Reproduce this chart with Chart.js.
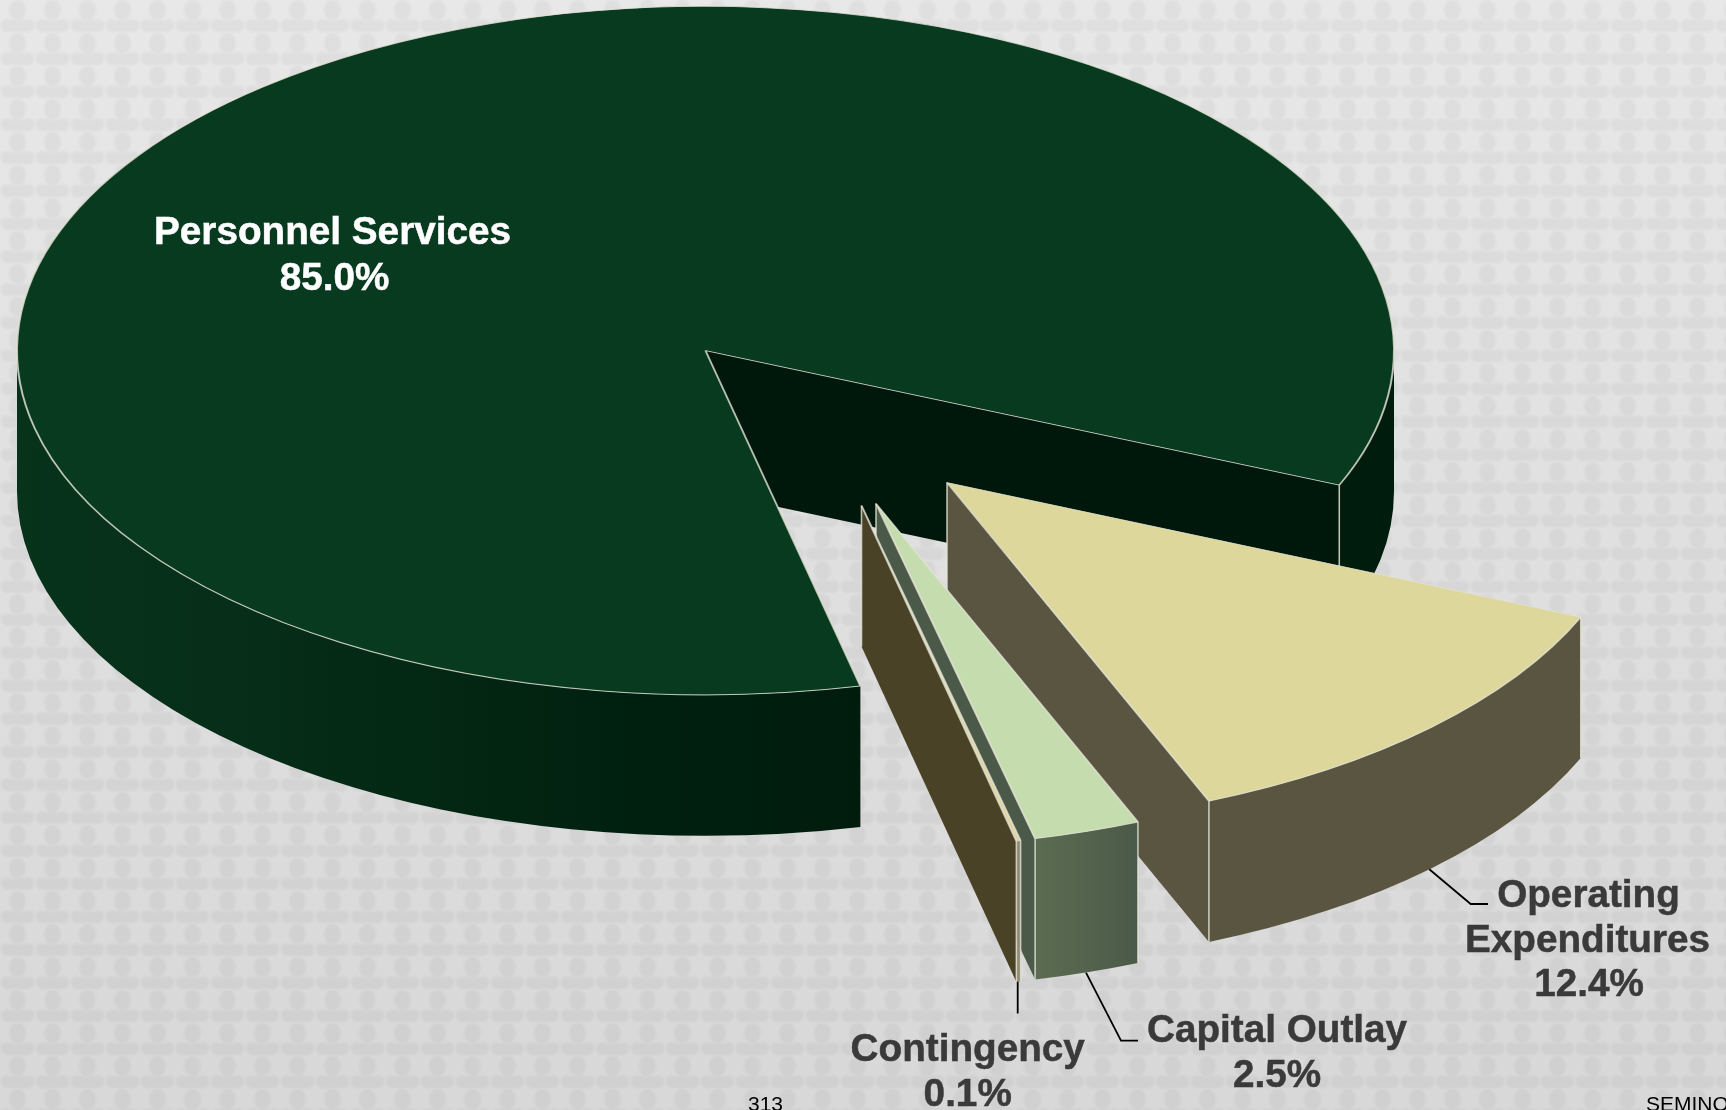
<!DOCTYPE html>
<html>
<head>
<meta charset="utf-8">
<style>
  html, body { margin: 0; padding: 0; width: 1726px; height: 1110px; overflow: hidden; }
  body {
    background-color: #dcdcdc;
    background-image:
      url("data:image/svg+xml;utf8,<svg xmlns='http://www.w3.org/2000/svg' width='35' height='33'><defs><filter id='b' x='-20%' y='-20%' width='140%' height='140%'><feGaussianBlur stdDeviation='0.9'/></filter></defs><g fill='%23000' fill-opacity='.04' filter='url(%23b)'><ellipse cx='17.5' cy='10' rx='8.5' ry='10.5'/><path d='M1 22 C5 18 10 20 17.5 21 C25 20 30 18 34 22 C35 27 33 31 29 32 L6 32 C2 31 0 27 1 22Z'/></g></svg>"),
      linear-gradient(to bottom, #e8e8e8 0%, #dfdfdf 55%, #d8d8d8 100%);
  }
  #wrap { position: absolute; left: 0; top: 0; width: 1726px; height: 1110px; }
</style>
<script src="https://cdn.jsdelivr.net/npm/chart.js@4/dist/chart.umd.js"></script>
</head>
<body>
<div id="wrap"><canvas id="budget" width="1726" height="1110"></canvas></div>
<script>
// Budget shares, in percent
const categories = ['Personnel Services', 'Operating Expenditures', 'Capital Outlay', 'Contingency'];
const shares = [85.0, 12.4, 2.5, 0.1];

// Label line breaks and anchors (one anchor per drawn line)
const labelLines = [['Personnel Services'], ['Operating', 'Expenditures'], ['Capital Outlay'], ['Contingency']];
const labelAnchors = [
  [[332.5, 243.5], [334.5, 289.5]],
  [[1588.5, 906.7], [1587.5, 951.5], [1589, 996.3]],
  [[1277, 1042], [1277, 1086.8]],
  [[967.7, 1060.7], [967.7, 1105.5]]
];
const labelColors = ['#ffffff', '#3a3a3a', '#3a3a3a', '#3a3a3a'];

// Slice colours: top face, cut face, outer wall gradient stops
const topColors = ['#083a20', '#ddd79c', '#c4dcae', '#e0d49c'];
const cutColors = ['#00170b', '#5a5540', '#4b5a48', '#4a4227'];
const wallStops = [
  ['#07331b', '#062e18', '#032712', '#00200f', '#001c0d'],
  ['#5a5540', '#5a5540'],
  ['#5c6c52', '#4a5a48'],
  ['#8f8a72', '#8f8a72']
];

// Pull-out of each slice from the pie centre, before the tilt
const pullX = [0, 241.5, 170.5, 156];
const pullY = [0, 264, 306, 310];

// Leader lines from slice wall to label
const leaders = [
  [],
  [[1429.3, 869.3], [1470.7, 904], [1488, 904]],
  [[1086, 972.7], [1121, 1040.7], [1138, 1040.7]],
  [[1017.7, 981.7], [1017.7, 1013.5]]
];

// Pie projection
const centerX = 705.5, centerY = 350.6, radius = 688.5, tilt = 0.5, depth = 141;
const edgeColor = 'rgba(226,226,212,0.8)';

function drawSlice(ctx, arc, i) {
  const D = depth / tilt;
  const x = arc.x, y = arc.y, r = arc.outerRadius;
  const a0 = arc.startAngle, a1 = arc.endAngle;
  ctx.save();
  ctx.translate(centerX + pullX[i], centerY + pullY[i] * tilt);
  ctx.scale(1, tilt);
  ctx.translate(-x, -y);

  // Cut faces that look towards the viewer
  const cut = (ang) => {
    const px = x + Math.cos(ang) * r, py = y + Math.sin(ang) * r;
    ctx.beginPath();
    ctx.moveTo(x, y); ctx.lineTo(px, py); ctx.lineTo(px, py + D); ctx.lineTo(x, y + D);
    ctx.closePath();
    ctx.fillStyle = cutColors[i];
    ctx.fill();
  };
  if (Math.sin(a0 - Math.PI / 2) > 0) cut(a0);
  if (Math.sin(a1 + Math.PI / 2) > 0) cut(a1);

  // Outer wall: only the parts on the front half of the ellipse.
  // The gradient spans the first part; anything past it stays at the last stop.
  const TAU = Math.PI * 2;
  const spans = [];
  for (let k = -2; k <= 2; k++) {
    const s = Math.max(a0, k * TAU), e = Math.min(a1, k * TAU + Math.PI);
    if (e > s) spans.push([s, e]);
  }
  const xa = x + Math.cos(spans[0][1]) * r, xb = x + Math.cos(spans[0][0]) * r;
  const wall = ctx.createLinearGradient(Math.min(xa, xb), 0, Math.max(xa, xb), 0);
  wallStops[i].forEach((c, n) => wall.addColorStop(n / (wallStops[i].length - 1), c));
  spans.forEach(([s, e]) => {
    ctx.beginPath();
    ctx.arc(x, y, r, s, e);
    ctx.arc(x, y + D, r, e, s, true);
    ctx.closePath();
    ctx.fillStyle = wall;
    ctx.fill();
  });

  // Pale upright lines at the visible corners
  ctx.strokeStyle = edgeColor;
  ctx.lineWidth = 1.6;
  const upright = (px, py) => {
    ctx.beginPath(); ctx.moveTo(px, py); ctx.lineTo(px, py + D); ctx.stroke();
  };
  upright(x + Math.cos(a1) * r, y + Math.sin(a1) * r);
  if (i > 0) {
    upright(x + Math.cos(a0) * r, y + Math.sin(a0) * r);
    upright(x, y);
  }

  // Top face, drawn by the library's arc element
  arc.draw(ctx);
  ctx.restore();
}

const extrudedPie = {
  id: 'extrudedPie',
  beforeDatasetDraw(chart, args) {
    args.meta.data.forEach((arc, i) => drawSlice(chart.ctx, arc, i));
    return false;
  }
};

const sliceLabels = {
  id: 'sliceLabels',
  afterDatasetsDraw(chart) {
    const ctx = chart.ctx;
    ctx.save();
    // Leader lines
    ctx.strokeStyle = '#000';
    ctx.lineWidth = 1.8;
    leaders.forEach(pts => {
      if (!pts.length) return;
      ctx.beginPath();
      pts.forEach((p, n) => n ? ctx.lineTo(p[0], p[1]) : ctx.moveTo(p[0], p[1]));
      ctx.stroke();
    });
    // Category and percentage
    ctx.font = 'bold 38.7px "Liberation Sans", Arial, sans-serif';
    ctx.textAlign = 'center';
    ctx.textBaseline = 'alphabetic';
    ctx.lineWidth = 0.5;
    categories.forEach((name, i) => {
      const lines = labelLines[i].concat(shares[i].toFixed(1) + '%');
      ctx.fillStyle = labelColors[i];
      ctx.strokeStyle = labelColors[i];
      lines.forEach((t, n) => {
        const [tx, ty] = labelAnchors[i][n];
        ctx.fillText(t, tx, ty);
        ctx.strokeText(t, tx, ty);
      });
    });
    // Page number and footer
    ctx.font = '21px "Liberation Sans", Arial, sans-serif';
    ctx.fillStyle = '#000';
    ctx.textAlign = 'left';
    ctx.fillText('313', 748, 1110.5);
    ctx.fillText('SEMINOLE COUNTY', 1646, 1110.5);
    ctx.restore();
  }
};

new Chart(document.getElementById('budget'), {
  type: 'pie',
  data: {
    labels: categories,
    datasets: [{
      data: shares,
      backgroundColor: topColors,
      borderColor: edgeColor,
      borderWidth: 2,
      radius: radius,
      rotation: 167
    }]
  },
  options: {
    responsive: false,
    animation: false,
    layout: { padding: 0 },
    plugins: { legend: { display: false }, tooltip: { enabled: false }, title: { display: false } }
  },
  plugins: [extrudedPie, sliceLabels]
});
</script>
</body>
</html>
